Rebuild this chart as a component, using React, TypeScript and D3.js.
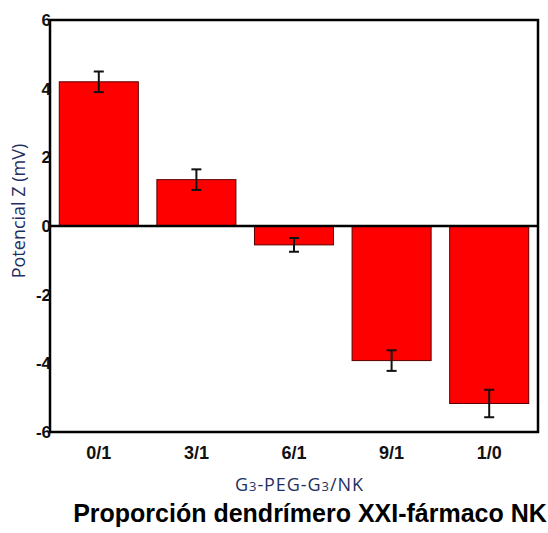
import { useEffect, useRef } from "react";
import * as d3 from "d3";

const categories = ["0/1", "3/1", "6/1", "9/1", "1/0"];
const potentials = [4.2, 1.35, -0.55, -3.92, -5.17];
const errors = [0.3, 0.3, 0.2, 0.3, 0.4];
const yTicks = [-6, -4, -2, 0, 2, 4, 6];

type Row = { cat: string; value: number; err: number };

export default function App() {
  const svgRef = useRef<SVGSVGElement | null>(null);

  useEffect(() => {
    const svgElement = svgRef.current;
    if (!svgElement) return;

    const width = 548;
    const height = 533;
    const plot = { left: 50, right: 538, top: 20, bottom: 432 };

    const rows: Row[] = categories.map((cat, i) => ({ cat, value: potentials[i], err: errors[i] }));

    const x = d3
      .scaleBand()
      .domain(categories)
      .range([plot.left, plot.right])
      .paddingInner(0.19)
      .paddingOuter(0.095);
    const y = d3.scaleLinear().domain([-6, 6]).range([plot.bottom, plot.top]);

    const svg = d3.select(svgElement);
    svg.selectAll("*").remove();
    svg.attr("viewBox", `0 0 ${width} ${height}`);

    // bars
    svg
      .append("g")
      .selectAll("rect")
      .data(rows)
      .join("rect")
      .attr("x", (d) => x(d.cat) ?? 0)
      .attr("y", (d) => y(Math.max(0, d.value)))
      .attr("width", x.bandwidth())
      .attr("height", (d) => Math.abs(y(d.value) - y(0)))
      .attr("fill", "#ff0000")
      .attr("stroke", "#5a0000")
      .attr("stroke-width", 1);

    // error bars
    const eb = svg.append("g").attr("stroke", "#111").attr("stroke-width", 2);
    rows.forEach((d) => {
      const cx = (x(d.cat) ?? 0) + x.bandwidth() / 2;
      const y1 = y(d.value + d.err);
      const y2 = y(d.value - d.err);
      eb.append("line").attr("x1", cx).attr("x2", cx).attr("y1", y1).attr("y2", y2);
      eb.append("line").attr("x1", cx - 5).attr("x2", cx + 5).attr("y1", y1).attr("y2", y1);
      eb.append("line").attr("x1", cx - 5).attr("x2", cx + 5).attr("y1", y2).attr("y2", y2);
    });

    // zero line
    svg
      .append("line")
      .attr("x1", plot.left)
      .attr("x2", plot.right)
      .attr("y1", y(0))
      .attr("y2", y(0))
      .attr("stroke", "#000")
      .attr("stroke-width", 2.5);

    // frame
    svg
      .append("rect")
      .attr("x", plot.left)
      .attr("y", plot.top)
      .attr("width", plot.right - plot.left)
      .attr("height", plot.bottom - plot.top)
      .attr("fill", "none")
      .attr("stroke", "#000")
      .attr("stroke-width", 2.5);

    // y tick labels
    svg
      .append("g")
      .selectAll("text")
      .data(yTicks)
      .join("text")
      .attr("x", plot.left + 1)
      .attr("y", (d) => y(d))
      .attr("dy", "0.36em")
      .attr("text-anchor", "end")
      .attr("font-family", "Liberation Sans, Arial, sans-serif")
      .attr("font-weight", "bold")
      .attr("font-size", 17)
      .attr("fill", "#111")
      .text((d) => `${d}`);

    // x tick labels
    svg
      .append("g")
      .selectAll("text")
      .data(categories)
      .join("text")
      .attr("x", (d) => (x(d) ?? 0) + x.bandwidth() / 2)
      .attr("y", 459)
      .attr("text-anchor", "middle")
      .attr("font-family", "Liberation Sans, Arial, sans-serif")
      .attr("font-weight", "bold")
      .attr("font-size", 18)
      .attr("fill", "#111")
      .text((d) => d);

    // y axis title
    svg
      .append("text")
      .attr("transform", `translate(25, 211) rotate(-90)`)
      .attr("text-anchor", "middle")
      .attr("font-family", "Open Sans, sans-serif")
      .attr("font-size", 18)
      .attr("fill", "#1f3060")
      .text("Potencial Z (mV)");

    // x axis title with subscripts
    const xt = svg
      .append("text")
      .attr("x", 299)
      .attr("y", 491)
      .attr("text-anchor", "middle")
      .attr("font-family", "Open Sans, sans-serif")
      .attr("font-size", 18)
      .attr("fill", "#1f3060")
      .attr("textLength", 128)
      .attr("lengthAdjust", "spacing");
    xt.append("tspan").text("G");
    xt.append("tspan").attr("font-size", 13).text("3");
    xt.append("tspan").text("-PEG-G");
    xt.append("tspan").attr("font-size", 13).text("3");
    xt.append("tspan").text("/NK");

    // bottom caption
    svg
      .append("text")
      .attr("x", 310)
      .attr("y", 522)
      .attr("text-anchor", "middle")
      .attr("font-family", "Liberation Sans, Arial, sans-serif")
      .attr("font-weight", "bold")
      .attr("font-size", 25)
      .attr("fill", "#000")
      .text("Proporción dendrímero XXI-fármaco NK");
  }, []);

  return (
    <svg
      ref={svgRef}
      width={548}
      height={533}
      style={{ position: "absolute", left: 0, top: 0, background: "#fff" }}
    />
  );
}
